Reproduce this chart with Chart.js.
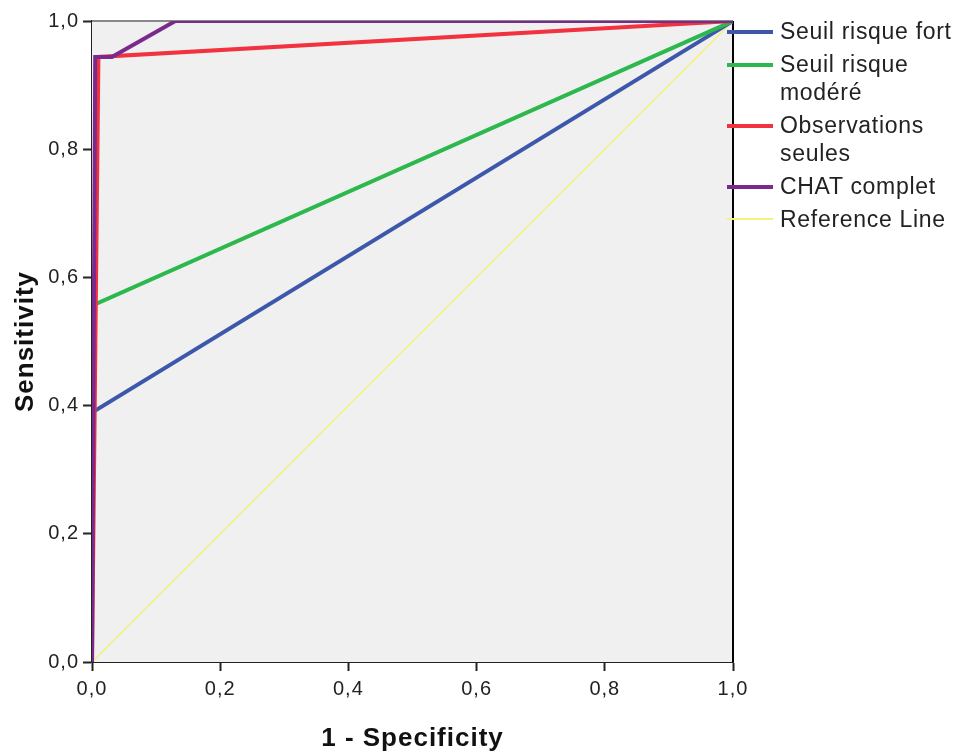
<!DOCTYPE html>
<html>
<head>
<meta charset="utf-8">
<script src="https://cdn.jsdelivr.net/npm/chart.js@4"></script>
<style>
  html, body { margin: 0; padding: 0; background: #fff; }
  #wrap { position: relative; width: 963px; height: 754px; }
  #legend { position: absolute; left: 727px; top: 17px; font-family: "Liberation Sans", Arial, sans-serif; font-size: 23px; letter-spacing: 0.7px; color: #222; }
  .item { display: flex; align-items: flex-start; margin-bottom: 5px; }
  .swatch { width: 46px; margin-top: 13px; margin-right: 7px; flex: none; }
  .text { line-height: 28px; width: 190px; }
</style>
</head>
<body>
<div id="wrap">
  <canvas id="roc" width="963" height="754"></canvas>
  <div id="legend"></div>
</div>
<script>
const seriesNames = [['Seuil risque fort'], ['Seuil risque', 'modéré'], ['Observations', 'seules'], ['CHAT complet'], ['Reference Line']];
const seriesColors = ['#3d57ab', '#2cb84c', '#f2323f', '#7a2a8c', '#f6f07c'];
const seriesWidths = [4, 4, 4, 4, 1.5];

// 1 - specificity / sensitivity pairs
const fortX = [0, 0, 1];
const fortY = [0, 0.389, 1];
const modereX = [0, 0, 1];
const modereY = [0, 0.556, 1];
const obsX = [0, 0.01, 1];
const obsY = [0, 0.944, 1];
const chatX = [0, 0.005, 0.031, 0.13, 1];
const chatY = [0, 0.944, 0.944, 1, 1];
const refX = [0, 1];
const refY = [0, 1];

const tickLabels = ['0,0', '0,2', '0,4', '0,6', '0,8', '1,0'];

const xs = [fortX, modereX, obsX, chatX, refX];
const ys = [fortY, modereY, obsY, chatY, refY];

const frame = {
  id: 'frame',
  beforeDraw(chart) {
    chart.ctx.letterSpacing = '1px';
  },
  beforeDatasetsDraw(chart) {
    const { ctx, chartArea: a } = chart;
    ctx.save();
    ctx.fillStyle = '#f0f0f0';
    ctx.fillRect(a.left, a.top, a.right - a.left, a.bottom - a.top);
    ctx.strokeStyle = '#888';
    ctx.lineWidth = 2;
    ctx.beginPath();
    ctx.moveTo(a.left, a.top);
    ctx.lineTo(a.right, a.top);
    ctx.stroke();
    ctx.strokeStyle = '#000';
    ctx.beginPath();
    ctx.moveTo(a.right, a.top);
    ctx.lineTo(a.right, a.bottom);
    ctx.stroke();
    ctx.restore();
  },
};

const datasets = seriesNames.map((name, i) => ({
  label: name.join(' '),
  data: xs[i].map((x, j) => ({ x, y: ys[i][j] })),
  borderColor: seriesColors[i],
  borderWidth: seriesWidths[i],
  pointRadius: 0,
  tension: 0,
  fill: false,
  order: i === 4 ? 5 : 4 - i,
}));

const tickFont = { family: 'Liberation Sans', size: 20 };
const titleFont = { family: 'Liberation Sans', size: 26, weight: 'bold' };

new Chart(document.querySelector('#roc'), {
  type: 'line',
  data: { datasets },
  plugins: [frame],
  options: {
    responsive: false,
    animation: false,
    layout: { padding: { left: 0, right: 230, top: 21, bottom: 0 } },
    plugins: { legend: { display: false }, tooltip: { enabled: false } },
    scales: {
      x: {
        type: 'linear',
        min: 0,
        max: 1,
        afterFit: scale => { scale.height = 92; },
        afterBuildTicks: scale => { scale.ticks = tickLabels.map((t, i) => ({ value: i * 0.2 })); },
        grid: { drawOnChartArea: false, tickLength: 9, tickWidth: 2, tickColor: '#222' },
        border: { color: '#222', width: 2 },
        ticks: {
          padding: 6,
          color: '#222',
          font: tickFont,
          callback: (v, i) => tickLabels[i],
        },
        title: {
          display: true,
          text: '1 - Specificity',
          color: '#111',
          font: titleFont,
          padding: { top: 20, bottom: 0 },
        },
      },
      y: {
        type: 'linear',
        min: 0,
        max: 1,
        afterFit: scale => { scale.width = 92; },
        afterBuildTicks: scale => { scale.ticks = tickLabels.map((t, i) => ({ value: i * 0.2 })); },
        grid: { drawOnChartArea: false, tickLength: 9, tickWidth: 2, tickColor: '#222' },
        border: { color: '#222', width: 2 },
        ticks: {
          padding: 4,
          color: '#222',
          font: tickFont,
          callback: (v, i) => tickLabels[i],
        },
        title: {
          display: true,
          text: 'Sensitivity',
          color: '#111',
          font: titleFont,
          padding: { top: 10, bottom: 4 },
        },
      },
    },
  },
});

const legend = document.querySelector('#legend');
seriesNames.forEach((name, i) => {
  const item = document.createElement('div');
  item.className = 'item';
  const swatch = document.createElement('div');
  swatch.className = 'swatch';
  swatch.style.height = seriesWidths[i] + 'px';
  swatch.style.background = seriesColors[i];
  const text = document.createElement('div');
  text.className = 'text';
  text.innerHTML = name.join('<br>');
  item.append(swatch, text);
  legend.appendChild(item);
});
</script>
</body>
</html>
